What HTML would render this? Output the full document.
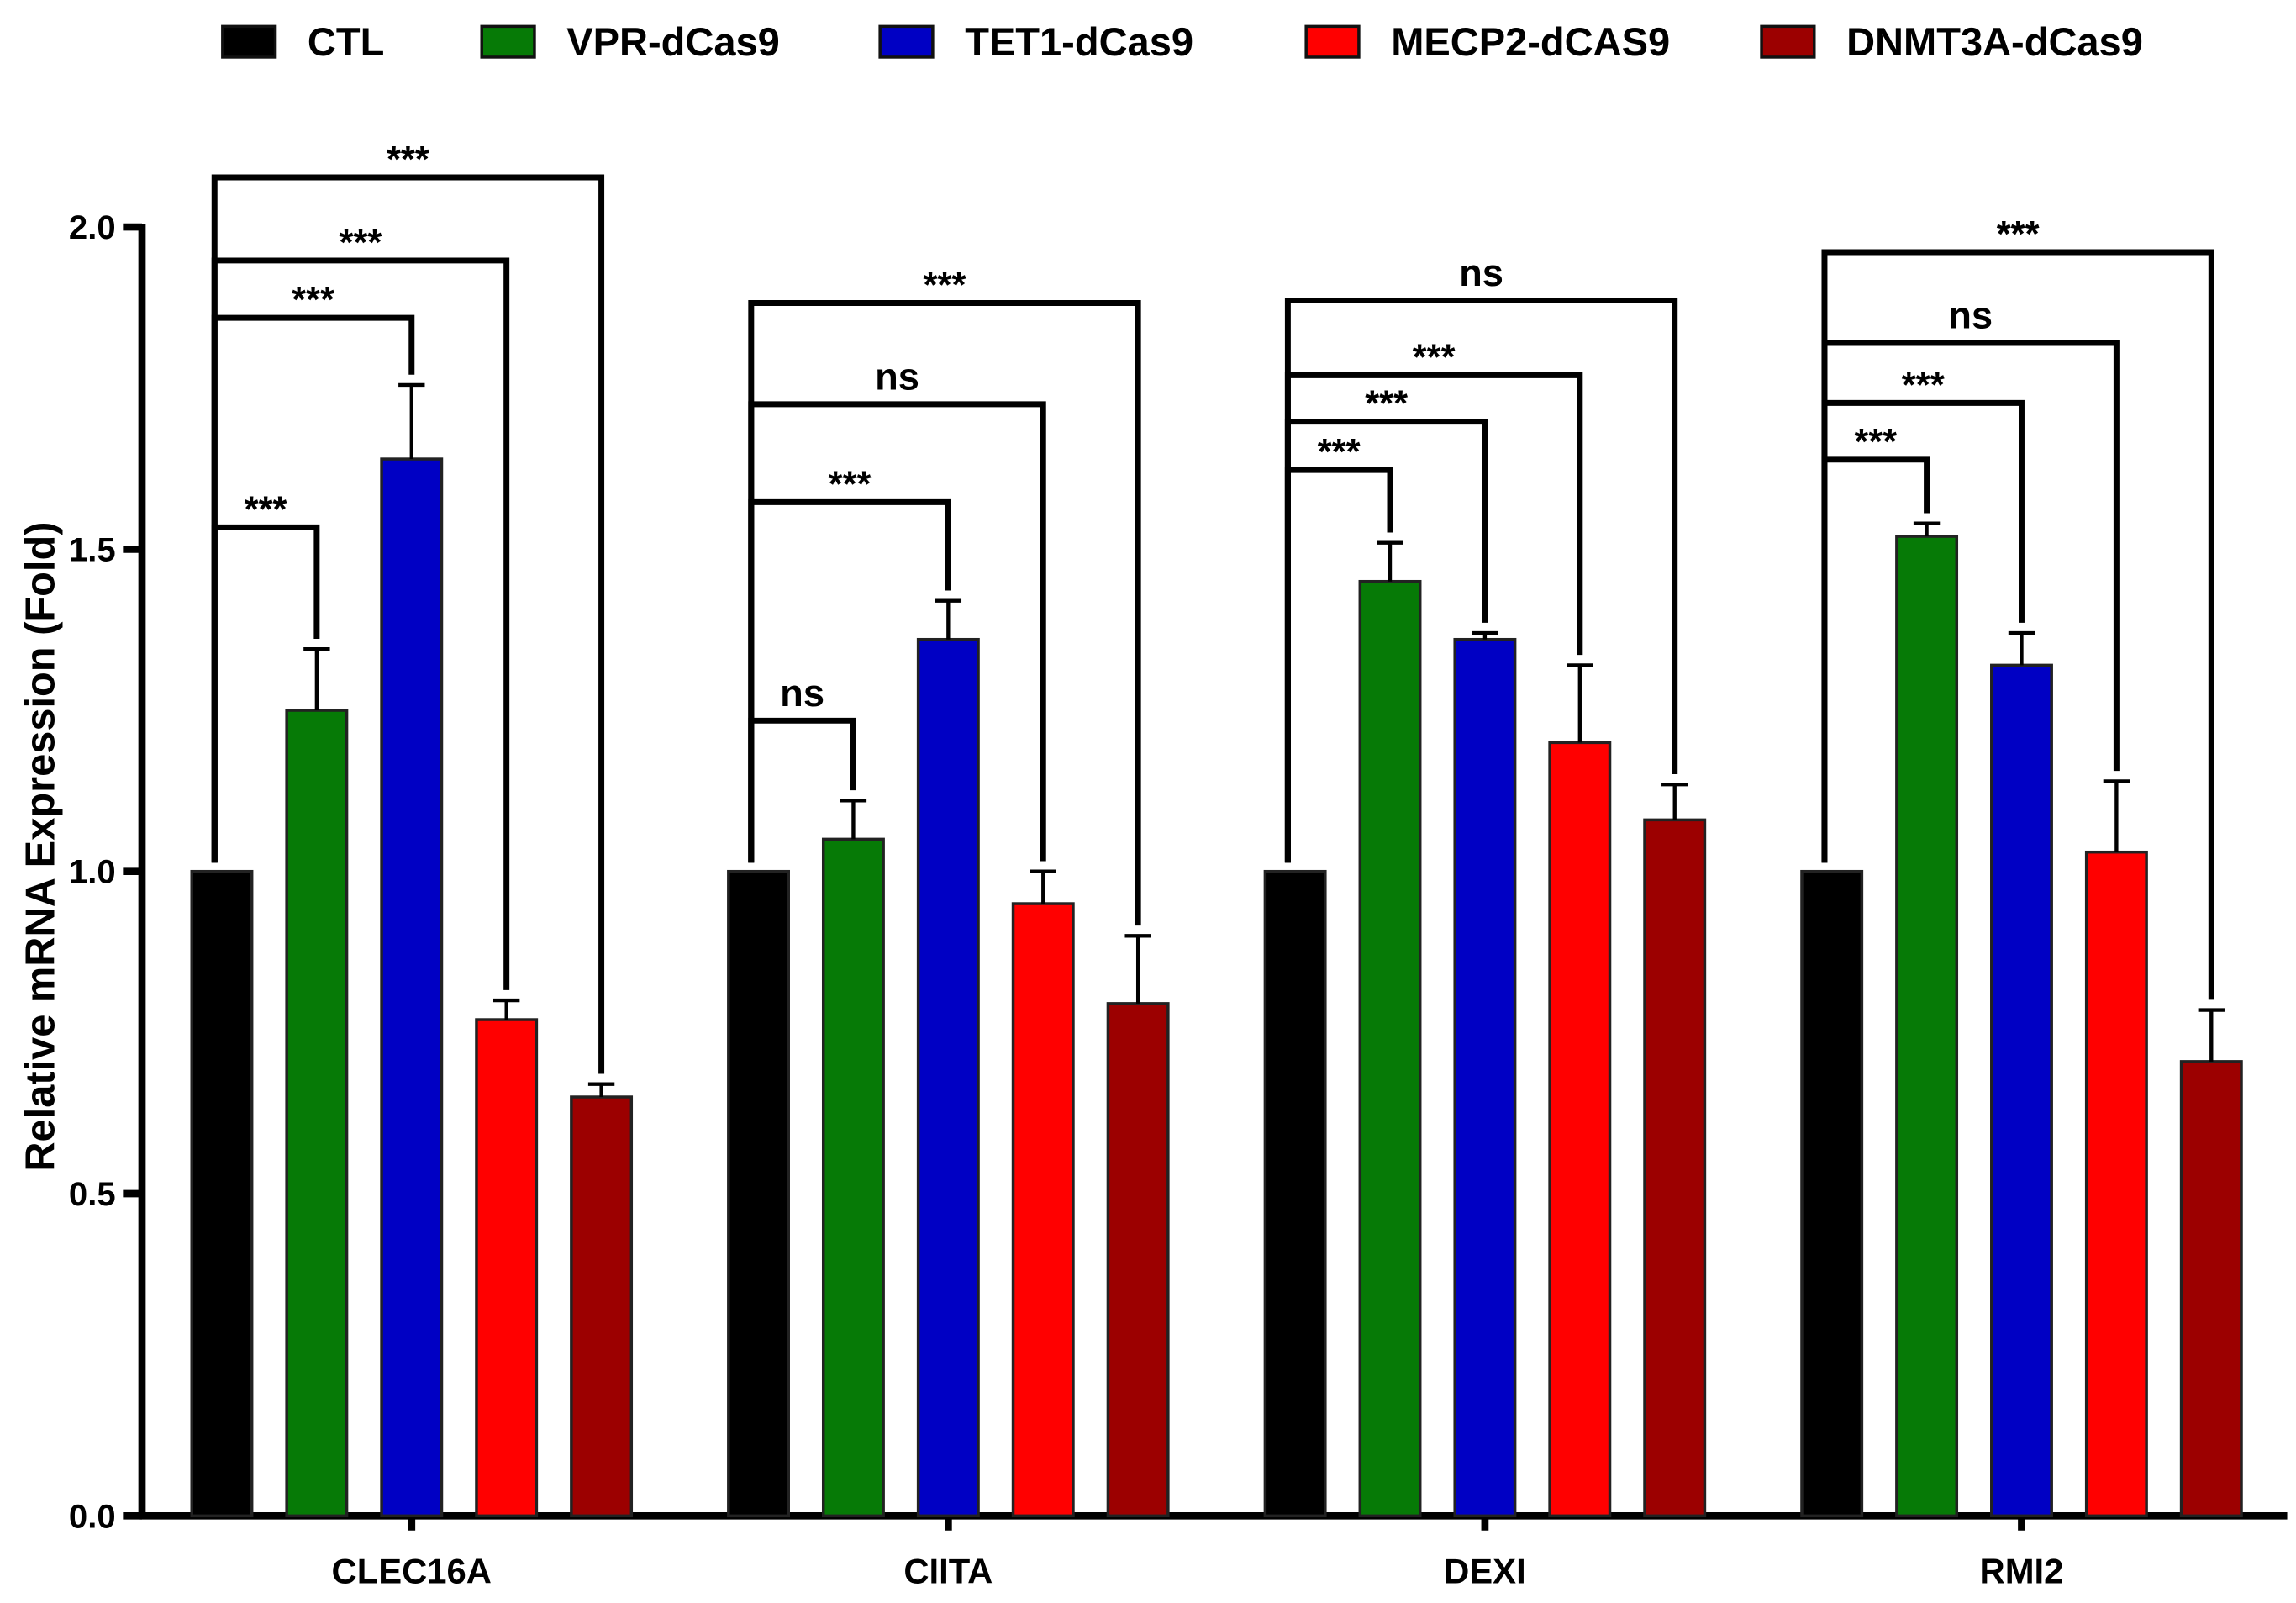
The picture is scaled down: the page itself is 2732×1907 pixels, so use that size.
<!DOCTYPE html>
<html><head><meta charset="utf-8"><style>
html,body{margin:0;padding:0;background:#fff;}
svg{display:block;font-family:"Liberation Sans",Arial,sans-serif;font-weight:bold;}
</style></head><body>
<svg id="chart" width="2732" height="1907" viewBox="0 0 1568 1094.5" preserveAspectRatio="none" xmlns="http://www.w3.org/2000/svg"></svg>
<script>
const groups = ["CLEC16A", "CIITA", "DEXI", "RMI2"];
const seriesNames = ["CTL", "VPR-dCas9", "TET1-dCas9", "MECP2-dCAS9", "DNMT3A-dCas9"];
const seriesColors = ["#000000", "#067a06", "#0000c4", "#ff0000", "#9c0000"];
const meanCLEC16A = [1.0, 1.25, 1.64, 0.77, 0.65];
const meanCIITA = [1.0, 1.05, 1.36, 0.95, 0.795];
const meanDEXI = [1.0, 1.45, 1.36, 1.20, 1.08];
const meanRMI2 = [1.0, 1.52, 1.32, 1.03, 0.705];
const errCLEC16A = [0, 0.095, 0.115, 0.03, 0.02];
const errCIITA = [0, 0.06, 0.06, 0.05, 0.105];
const errDEXI = [0, 0.06, 0.01, 0.12, 0.055];
const errRMI2 = [0, 0.02, 0.05, 0.11, 0.08];
const bracketCLEC16A = [1.534, 1.859, 1.948, 2.077];
const bracketCIITA = [1.234, 1.573, 1.725, 1.882];
const bracketDEXI = [1.623, 1.698, 1.770, 1.886];
const bracketRMI2 = [1.639, 1.727, 1.820, 1.961];
const sigCLEC16A = ["***", "***", "***", "***"];
const sigCIITA = ["ns", "***", "ns", "***"];
const sigDEXI = ["***", "***", "***", "ns"];
const sigRMI2 = ["***", "***", "ns", "***"];
const yTicks = [0, 0.5, 1.0, 1.5, 2.0];
const yTickLabels = ["0.0", "0.5", "1.0", "1.5", "2.0"];

const means = [meanCLEC16A, meanCIITA, meanDEXI, meanRMI2];
const errs = [errCLEC16A, errCIITA, errDEXI, errRMI2];
const brackets = [bracketCLEC16A, bracketCIITA, bracketDEXI, bracketRMI2];
const sigs = [sigCLEC16A, sigCIITA, sigDEXI, sigRMI2];

const svg = document.getElementById('chart');
const NS = 'http://www.w3.org/2000/svg';
function mk(tag, attrs, parent) {
  const e = document.createElementNS(NS, tag);
  for (const k in attrs) e.setAttribute(k, attrs[k]);
  (parent || svg).appendChild(e);
  return e;
}
const y0 = 1035, pxPerUnit = 440;
function yScale(v) { return y0 - v * pxPerUnit; }
const groupStart = 131, groupStep = 366.5, barStep = 64.8, barW = 41;
function xBar(g, s) { return groupStart + g * groupStep + s * barStep; }

// legend
const legendX = [152, 329, 601, 892, 1203];
seriesNames.forEach((n, i) => {
  const g = mk('g', {});
  
  
  mk('rect', {x: legendX[i], y: 18, width: 36, height: 21, fill: seriesColors[i], stroke: '#111', 'stroke-width': 2}, g);
  const t = mk('text', {x: legendX[i] + 58, y: 38, 'font-size': 27, textLength: 0}, g);
  t.removeAttribute('textLength');
  t.textContent = n;
});

// y axis
const yAx = mk('g', {});


mk('line', {x1: 97, y1: yScale(2.0) - 2, x2: 97, y2: y0 + 2, stroke: '#000', 'stroke-width': 5}, yAx);
yTicks.forEach((v, i) => {
  mk('line', {x1: 84, y1: yScale(v), x2: 97, y2: yScale(v), stroke: '#000', 'stroke-width': 5}, yAx);
  const t = mk('text', {x: 79, y: yScale(v) + 8, 'font-size': 23, 'text-anchor': 'end'}, yAx);
  t.textContent = yTickLabels[i];
});
const yt = mk('text', {x: 0, y: 0, 'font-size': 28, 'text-anchor': 'middle', transform: 'translate(37,578) rotate(-90)'});


yt.textContent = 'Relative mRNA Expression (Fold)';

// x axis
const xAx = mk('g', {});


mk('line', {x1: 95, y1: y0, x2: 1562, y2: y0, stroke: '#000', 'stroke-width': 5}, xAx);
groups.forEach((gname, g) => {
  const cx = (xBar(g, 0) + xBar(g, 4) + barW) / 2;
  mk('line', {x1: cx, y1: y0, x2: cx, y2: y0 + 10, stroke: '#000', 'stroke-width': 5}, xAx);
  const t = mk('text', {x: cx, y: 1081, 'font-size': 24, 'text-anchor': 'middle'}, xAx);
  t.textContent = gname;
});

// bars
groups.forEach((gname, g) => {
  const grp = mk('g', {});
  
  
  means[g].forEach((v, s) => {
    const x = xBar(g, s);
    const b = mk('rect', {x: x, y: yScale(v), width: barW, height: y0 - yScale(v), fill: seriesColors[s], stroke: '#222', 'stroke-width': 2}, grp);
    
    
    const e = errs[g][s];
    if (e > 0) {
      const cx = x + barW / 2;
      mk('line', {x1: cx, y1: yScale(v), x2: cx, y2: yScale(v + e), stroke: '#000', 'stroke-width': 2.5}, grp);
      mk('line', {x1: cx - 9, y1: yScale(v + e), x2: cx + 9, y2: yScale(v + e), stroke: '#000', 'stroke-width': 2.5}, grp);
    }
  });
  const lx = xBar(g, 0) + barW / 2 - 5;
  brackets[g].forEach((bv, k) => {
    const s = k + 1;
    const rx = xBar(g, s) + barW / 2;
    const topV = means[g][s] + errs[g][s];
    const by = yScale(bv);
    const br = mk('path', {d: `M${lx},${yScale(1.0) - 6} L${lx},${by} L${rx},${by} L${rx},${yScale(topV) - 7}`, fill: 'none', stroke: '#000', 'stroke-width': 4}, grp);
    
    
    const lab = sigs[g][k];
    const t = mk('text', {x: (lx + rx) / 2, y: lab === 'ns' ? by - 10 : by - 4, 'font-size': lab === 'ns' ? 26 : 25, 'text-anchor': 'middle'}, grp);
    t.textContent = lab;
  });
});
</script>
</body></html>
